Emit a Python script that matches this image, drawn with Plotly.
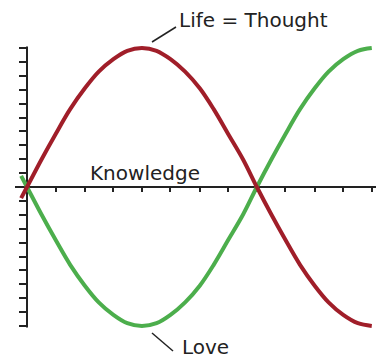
import plotly.graph_objects as go

# Angle positions along the horizontal axis (radians)
ANGLES = [
    -0.08, 0.0, 0.20, 0.39, 0.59, 0.79, 0.98, 1.18, 1.37, 1.57,
    1.77, 1.96, 2.16, 2.36, 2.55, 2.75, 2.95, 3.14, 3.34, 3.53,
    3.73, 3.93, 4.12, 4.32, 4.52, 4.71,
]

# "Life = Thought" curve (red)
LIFE = [
    -0.08, 0.0, 0.20, 0.38, 0.56, 0.71, 0.83, 0.92, 0.98, 1.0,
    0.98, 0.92, 0.83, 0.71, 0.56, 0.38, 0.20, 0.0, -0.20, -0.38,
    -0.56, -0.71, -0.83, -0.92, -0.98, -1.0,
]

# "Love" curve (green)
LOVE = [
    0.08, 0.0, -0.20, -0.38, -0.56, -0.71, -0.83, -0.92, -0.98, -1.0,
    -0.98, -0.92, -0.83, -0.71, -0.56, -0.38, -0.20, 0.0, 0.20, 0.38,
    0.56, 0.71, 0.83, 0.92, 0.98, 1.0,
]

X_TICKS = [0.39, 0.79, 1.18, 1.57, 1.96, 2.36, 2.75, 3.14, 3.53, 3.93, 4.32, 4.71]
Y_TICKS = [-1.0, -0.9, -0.8, -0.7, -0.6, -0.5, -0.4, -0.3, -0.2, -0.1, 0.0,
           0.1, 0.2, 0.3, 0.4, 0.5, 0.6, 0.7, 0.8, 0.9, 1.0]

LABELS = ["Life = Thought", "Knowledge", "Love"]

# the page body keeps its default 8px margin, so the figure is 8px smaller
# and all positions below are measured in window pixels
W, H = 384, 362
PAD = 8
FW, FH = W - PAD, H - PAD
AXIS_COLOR = '#222222'
TEXT_COLOR = '#222222'
FONT = 'DejaVu Sans, Verdana, sans-serif'

# origin at window pixel (27, 187), 73.2 px per radian, 139 px per unit
OX, OY = 27, 187
SX, SY = 73.2, 139


def px(x):
    return (x - PAD) / FW


def py(y):
    return 1 - (y - PAD) / FH


fig = go.Figure()

fig.add_trace(go.Scatter(
    x=ANGLES, y=LOVE, mode='lines', name='Love',
    line={'color': '#4cae4c', 'width': 4, 'shape': 'spline'},
    hoverinfo='skip'
))
fig.add_trace(go.Scatter(
    x=ANGLES, y=LIFE, mode='lines', name='Life',
    line={'color': '#a01e29', 'width': 4, 'shape': 'spline'},
    hoverinfo='skip'
))

fig.update_xaxes(
    domain=[px(15), 1],
    range=[(15 - OX) / SX, (W - OX) / SX],
    anchor='free', position=py(OY),
    showline=True, linecolor=AXIS_COLOR, linewidth=2,
    ticks='outside', tickvals=X_TICKS, ticklen=4, tickwidth=1.5,
    tickcolor=AXIS_COLOR, showticklabels=False,
    showgrid=False, zeroline=False, layer='below traces'
)
fig.update_yaxes(
    domain=[0, 1],
    range=[-(H - OY) / SY, (OY - PAD) / SY],
    anchor='free', position=px(OX),
    showline=False,
    ticks='outside', tickvals=Y_TICKS, ticklen=8, tickwidth=1.5,
    tickcolor=AXIS_COLOR, showticklabels=False,
    showgrid=False, zeroline=False, layer='below traces'
)

# vertical spine only spans the tick range
fig.add_shape(type='line', xref='x', yref='y', x0=0, x1=0, y0=-1.01, y1=1.01,
              line={'color': AXIS_COLOR, 'width': 2}, layer='below')

# leader lines for the labels
fig.add_shape(type='line', xref='paper', yref='paper',
              x0=px(152), y0=py(42), x1=px(176), y1=py(27),
              line={'color': AXIS_COLOR, 'width': 1.5})
fig.add_shape(type='line', xref='paper', yref='paper',
              x0=px(152), y0=py(333), x1=px(173), y1=py(351),
              line={'color': AXIS_COLOR, 'width': 1.5})

label_font = {'family': FONT, 'size': 20, 'color': TEXT_COLOR}
fig.add_annotation(text=LABELS[0], xref='paper', yref='paper',
                   x=px(177), y=py(20), xanchor='left', yanchor='middle',
                   showarrow=False, font=label_font)
fig.add_annotation(text=LABELS[1], xref='paper', yref='paper',
                   x=px(88), y=py(173), xanchor='left', yanchor='middle',
                   showarrow=False, font=label_font)
fig.add_annotation(text=LABELS[2], xref='paper', yref='paper',
                   x=px(180), y=py(347), xanchor='left', yanchor='middle',
                   showarrow=False, font=label_font)

fig.update_layout(
    width=FW, height=FH,
    margin={'t': 0, 'b': 0, 'l': 0, 'r': 0},
    paper_bgcolor='white', plot_bgcolor='white',
    showlegend=False
)

fig.write_html("out.html")
